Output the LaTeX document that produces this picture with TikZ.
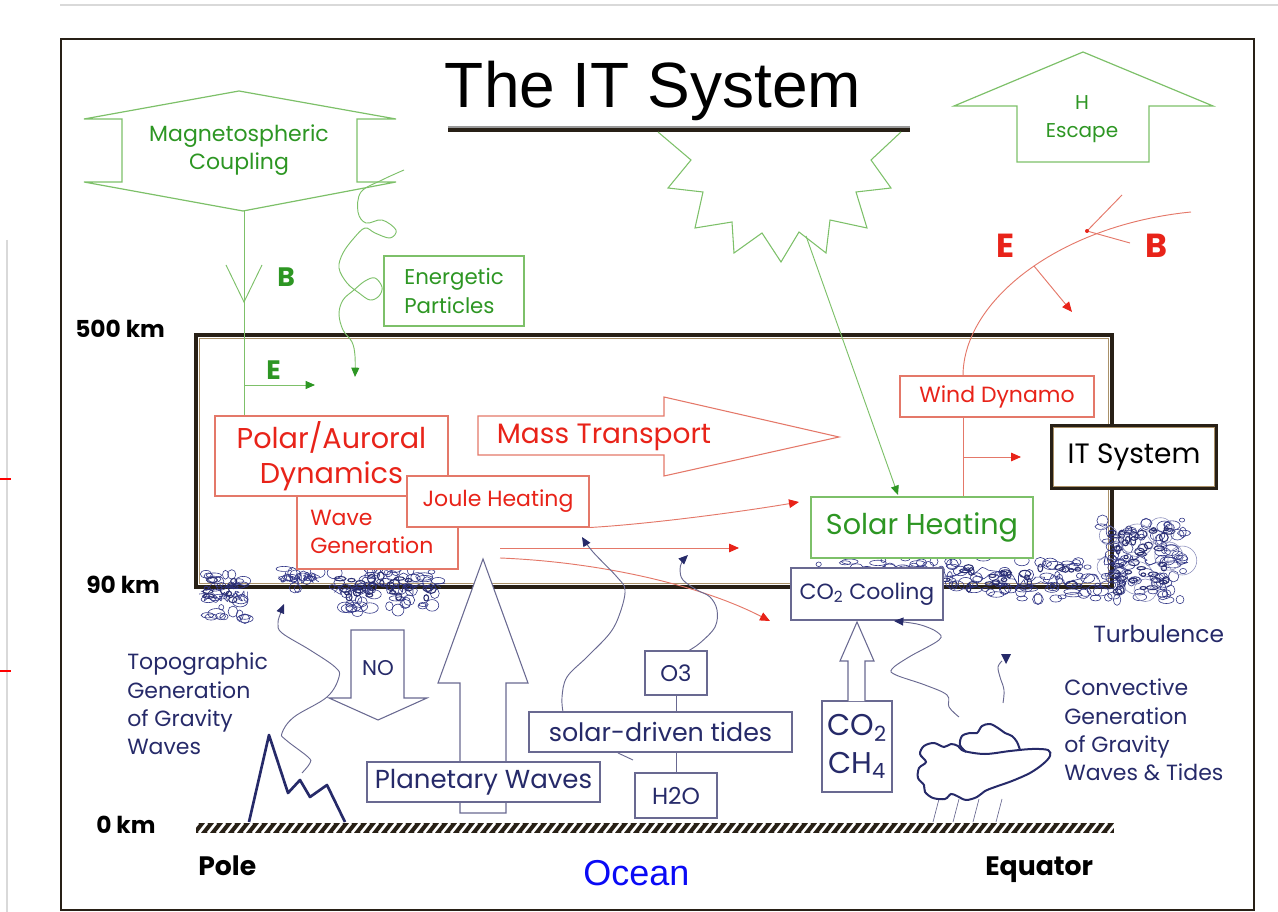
\documentclass[tikz,border=0pt]{standalone}
\usepackage{fontspec}
\setmainfont{Poppins}
\newfontfamily\arialf{Liberation Sans}
\usetikzlibrary{arrows.meta}

\definecolor{grtxt}{RGB}{45,150,35}
\definecolor{grln}{RGB}{125,192,105}
\definecolor{rdtxt}{RGB}{232,35,25}
\definecolor{rdln}{RGB}{228,120,105}
\definecolor{nvtxt}{RGB}{38,42,105}
\definecolor{nvln}{RGB}{105,105,145}
\definecolor{scrib}{RGB}{50,55,135}
\definecolor{frm}{RGB}{40,32,22}
\definecolor{tan}{RGB}{170,145,105}
\definecolor{oceanblue}{RGB}{10,10,245}

\begin{document}
\begin{tikzpicture}[x=0.75pt,y=-0.75pt,
  wh/.style 2 args={minimum width=#1*0.75pt, minimum height=#2*0.75pt},
  box/.style={draw, rectangle, inner sep=0pt, fill=white, line width=0.8pt},
  gbox/.style={box, draw=grln, text=grtxt},
  rbox/.style={box, draw=rdln, text=rdtxt},
  nbox/.style={box, draw=nvln, text=nvtxt},
  txt/.style={inner sep=0pt, align=center},
  fsz/.style 2 args={font=\fontsize{#1}{#2}\selectfont},
  gtip/.style={-{Triangle[length=7pt,width=6pt,color=grtxt]}},
  rtip/.style={-{Triangle[length=7.5pt,width=6.5pt,color=rdtxt]}},
  ntip/.style={-{Triangle[length=7pt,width=6pt,color=nvtxt]}},
  thin line/.style={line width=0.7pt},
  hollow/.style={draw=nvln, fill=white, line width=0.8pt}
]
\useasboundingbox (0,0) rectangle (1278,912);

% scanning marks along the edges
\draw[black!15, line width=0.8pt] (60,5) -- (1278,5);
\draw[black!15, line width=0.8pt] (7,240) -- (7,912);
\draw[red, line width=2.2pt] (0,479) -- (11,479);
\draw[red, line width=2.2pt] (0,671) -- (11,671);

% outer frame
\draw[frm, line width=1.5pt] (61,39) rectangle (1254,910);

% title
\node[font=\arialf\fontsize{48}{52}\selectfont, inner sep=0pt, anchor=base] (title) at (653,108) {The IT System};
\draw[frm, line width=3.2pt] (448,130) -- (910,130);
\draw[black!40, line width=0.8pt] (448,127) -- (910,127);

% sun
\draw[grln, line width=0.8pt] (658,132) -- (691,160) -- (668,188) -- (703,192) -- (695,228)
  -- (732,222) -- (734,253) -- (762,233) -- (781,262) -- (799,232) -- (826,253)
  -- (830,220) -- (867,228) -- (856,192) -- (891,188) -- (871,160) -- (901,132);
\coordinate (sunpt) at (806,236);

% magnetospheric coupling
\draw[grln, line width=0.9pt] (239,91) -- (396,119) -- (357,119) -- (357,182) -- (396,182)
  -- (243,211) -- (84,182) -- (122,182) -- (122,119) -- (84,119) -- cycle;
\node[txt, text=grtxt, fsz={16.5}{21}] (mc) at (239,150) {Magnetospheric\\Coupling};
\coordinate (magb) at (244,211);

% H escape
\draw[grln, line width=0.9pt] (1083,52) -- (1213,106) -- (1149,106) -- (1149,162)
  -- (1017,162) -- (1017,106) -- (954,106) -- cycle;
\node[txt, text=grtxt, fsz={15}{21}] (he) at (1082,119) {H\\Escape};

% energetic particles
\node[gbox, wh={140}{70}, align=left, fsz={16}{21.5}] (ep) at (454,291) {Energetic\\Particles};

% main IT region
\draw[frm, line width=3pt] (196,335) rectangle (1112,587);
\draw[tan, line width=0.9pt] (199.5,338.5) rectangle (1108.5,583.5);

% altitude labels
\node[font=\bfseries\fontsize{17.5}{20}\selectfont, inner sep=0pt, anchor=base west] (k500) at (75,338) {500 km};
\node[font=\bfseries\fontsize{17.5}{20}\selectfont, inner sep=0pt, anchor=base west] (k90) at (86,593) {90 km};
\node[font=\bfseries\fontsize{17.5}{20}\selectfont, inner sep=0pt, anchor=base west] (k0) at (96,833) {0 km};

% turbulence scribbles near 90 km
\pgfmathsetseed{2718}
\begin{scope}[scrib, line width=0.45pt]
\foreach \n/\xa/\xb/\ya/\yb in {30/203/248/574/620, 12/282/318/566/590, 55/332/442/566/612,
    50/815/1000/556/590, 45/990/1100/560/600, 80/1100/1185/520/600}{
  \foreach \i in {1,...,\n}{
    \pgfmathsetmacro\cx{\xa+(\xb-\xa)*rnd}
    \pgfmathsetmacro\cy{\ya+(\yb-\ya)*rnd}
    \pgfmathsetmacro\rx{2.5+6*rnd}
    \pgfmathsetmacro\ry{2+4*rnd}
    \draw (\cx,\cy) ellipse[x radius=\rx, y radius=\ry];
  }
  \draw plot[smooth, variable=\t, domain=0:1, samples=22] ({\xa+(\xb-\xa)*\t+4*rand},{(\ya+\yb)/2+6*rand});
  \draw plot[smooth, variable=\t, domain=0:1, samples=22] ({\xa+(\xb-\xa)*\t+4*rand},{(\ya+\yb)/2+6*rand});
}
% denser knots
\foreach \n/\xa/\xb/\ya/\yb in {10/205/235/580/600, 25/340/435/575/598, 30/900/1090/565/588, 45/1112/1170/528/592}{
  \foreach \i in {1,...,\n}{
    \pgfmathsetmacro\cx{\xa+(\xb-\xa)*rnd}
    \pgfmathsetmacro\cy{\ya+(\yb-\ya)*rnd}
    \pgfmathsetmacro\rx{2+4*rnd}
    \pgfmathsetmacro\ry{1.5+3*rnd}
    \draw[line width=0.8pt, scrib!85!black] (\cx,\cy) ellipse[x radius=\rx, y radius=\ry];
  }
}
\foreach \i in {1,...,9}{
  \pgfmathsetmacro\cx{1105+80*rnd}
  \pgfmathsetmacro\cy{530+65*rnd}
  \pgfmathsetmacro\rr{9+8*rnd}
  \draw[scrib!55] (\cx,\cy) circle[radius=\rr];
}
\end{scope}

% magnetic field line and electric field from the magnetosphere
\node[rbox, wh={233}{80}, fsz={21.5}{26.5}, align=center] (pad) at (331.5,456) {Polar/Auroral\\Dynamics};
\draw[grln, thin line] (magb) -- (magb |- pad.north);
\draw[grln, thin line] (226,265) -- (244,302) -- (262,265);
\node[font=\bfseries\fontsize{20}{22}\selectfont, text=grtxt, inner sep=0pt, anchor=base west] (bl) at (277,287) {B};
\coordinate (ebase) at (244,385);
\draw[grln, thin line, gtip] (ebase) -- ++(71,0);
\node[font=\bfseries\fontsize{20}{22}\selectfont, text=grtxt, inner sep=0pt, anchor=base west] (el) at (266,380) {E};

% energetic particle trajectory
\draw[grln, thin line, gtip] plot[smooth, tension=0.6] coordinates {(404,170) (382,180) (361,192) (358,212)
  (366,223) (382,220) (396,230) (390,238) (375,233) (365,228) (354,238) (343,253) (339,268)
  (347,283) (359,293) (370,300) (379,296) (382,287) (375,278) (365,281) (354,290) (343,300)
  (339,314) (343,330) (352,342) (355,356) (355,377)};

% wave generation and joule heating
\node[rbox, wh={161}{73}] (wg) at (377.5,532.5) {};
\node[txt, text=rdtxt, fsz={16.5}{21}, align=left, anchor=west] (wgt) at (310,532) {Wave\\Generation};
\node[rbox, wh={182}{51}, fsz={16.5}{20}] (jh) at (498,501.5) {Joule Heating};

% mass transport
\draw[rdln, line width=0.8pt] (478,416) -- (664,416) -- (664,397) -- (839,437) -- (664,476)
  -- (664,455) -- (478,455) -- cycle;
\node[txt, text=rdtxt, fsz={21}{24}] (mt) at (604,437) {Mass Transport};

% wind dynamo, IT system and solar heating
\node[rbox, wh={194}{41}, fsz={16.5}{20}] (wd) at (997,396.5) {Wind Dynamo};
\node[draw=frm, fill=white, line width=2.6pt, inner sep=0pt, wh={164}{62}, fsz={21}{24}] (its) at (1134,457) {IT System};
\draw[tan, line width=1pt] ([shift={(2.4pt,-2.4pt)}]its.north west) rectangle ([shift={(-2.4pt,2.4pt)}]its.south east);
\node[gbox, wh={222}{61}, fsz={21.5}{24}] (sh) at (922,527.5) {Solar Heating};
\coordinate (wdl) at (963,417);
\draw[rdln, thin line] (wdl) -- (wdl |- sh.north);
\coordinate (wdm) at (963,457);
\draw[rdln, thin line, rtip] (wdm) -- (1021,457);
\coordinate (shin) at (898,495);
\draw[grln, thin line, gtip] (sunpt) -- (shin);

% electric and magnetic fields above the dynamo
\coordinate (wdt) at (963,376);
\draw[rdln, thin line] (wdt) .. controls (963,300) and (1060,225) .. (1191,212);
\draw[rdln, thin line] (1122,195) -- (1087,231) -- (1130,243);
\fill[rdtxt] (1087,231) circle[radius=2];
\draw[rdln, thin line, rtip] (1034,266) -- (1072,312);
\node[font=\bfseries\fontsize{25}{28}\selectfont, text=rdtxt, inner sep=0pt, anchor=base west] (er) at (996,258) {E};
\node[font=\bfseries\fontsize{25}{28}\selectfont, text=rdtxt, inner sep=0pt, anchor=base west] (br) at (1145,258) {B};

% heating flows
\draw[rdln, thin line, rtip] (jh.south east) .. controls (650,524) and (740,512) .. (799,502);
\coordinate (hs1) at (500,548);
\draw[rdln, thin line, rtip] (hs1) -- (739,548);
\coordinate (hs2) at (500,558);
\draw[rdln, thin line, rtip] (hs2) .. controls (600,562) and (700,585) .. (770,621);

% CO2 cooling
\node[nbox, wh={152}{52}, fsz={16.5}{20}] (cc) at (867,594) {CO\textsubscript{2} Cooling};

% planetary waves arrow
\draw[hollow] (483,559) -- (528,683) -- (506,683) -- (506,813) -- (460,813) -- (460,683) -- (438,683) -- cycle;
\node[nbox, wh={233}{40}, fsz={19.5}{22}] (pw) at (483.5,782) {Planetary Waves};

% NO arrow
\draw[hollow] (351,630) -- (404,630) -- (404,698) -- (427,698) -- (378,720) -- (329,698) -- (351,698) -- cycle;
\node[txt, text=nvtxt, fsz={16}{20}] (no) at (378,668) {NO};

% tides, ozone and water vapour
\node[nbox, wh={263}{40}, fsz={19}{22}] (tides) at (660.5,732) {solar-driven tides};
\node[nbox, wh={62}{44}, fsz={17}{20}] (o3) at (676,673) {O3};
\node[nbox, wh={82}{45}, fsz={17.5}{20}] (h2o) at (676,795.5) {H2O};
\draw[nvln, thin line] (o3.south) -- (o3.south |- tides.north);
\draw[nvln, thin line] (h2o.north) -- (h2o.north |- tides.south);
\draw[nvln, thin line] (618,753) -- (633,760);
\draw[nvln, thin line, ntip] plot[smooth, tension=0.6] coordinates {(563,712) (562,697) (567,677)
  (587,657) (610,633) (620,613) (625,590) (617,577) (593,552) (582,537)};
\draw[nvln, thin line, ntip] plot[smooth, tension=0.6] coordinates {(688,651) (700,643) (715,627)
  (717,610) (710,597) (697,590) (683,580) (680,570) (682,562) (688,555)};

% CO2 / CH4
\node[nbox, wh={70}{91}, fsz={22.5}{28}, align=center] (cch) at (857,746.5) {CO\textsubscript{2}\\CH\textsubscript{4}};
\draw[hollow] (848,701) -- (848,661) -- (840,661) -- (857,622) -- (874,661) -- (865,661) -- (865,701);

% topography and gravity waves
\draw[nvtxt, line width=2pt, line join=round] (249,822) -- (269,735) -- (288,793) -- (300,780)
  -- (310,797) -- (327,785) -- (345,822);
\draw[nvln, thin line, ntip] plot[smooth, tension=0.6] coordinates {(302,773) (310,763) (308,757)
  (286,740) (282,733) (294,717) (327,697) (339,677) (335,667) (310,650) (282,633) (278,623)
  (281,612) (284,604)};
\node[txt, text=nvtxt, fsz={16.5}{21.2}, align=left, anchor=west] (topo) at (127,704) {Topographic\\Generation\\of Gravity\\Waves};

% convection: rain and cloud
\foreach \dx in {0,20,40,63}{
  \draw[nvln, line width=0.5pt] ({939+\dx},799) -- ({933+\dx},822);
}
\draw[nvtxt, line width=1.5pt, fill=white] plot[smooth cycle, tension=0.55] coordinates {(926,762) (920,754)
  (924,746) (934,743) (944,747) (951,744) (958,746) (964,751) (985,754) (1010,751) (1032,749)
  (1048,750) (1050,756) (1043,764) (1030,773) (1012,781) (995,787) (985,791) (977,797)
  (966,800) (957,796) (951,794) (945,799) (933,798) (925,792) (924,785) (918,778) (919,768)};
\draw[nvtxt, line width=1.5pt] plot[smooth, tension=0.55] coordinates {(966,752) (960,745) (962,736)
  (970,733) (977,733) (982,726) (990,724) (998,728) (1005,733) (1012,736) (1017,742) (1020,750)};
\draw[nvln, thin line, ntip] plot[smooth, tension=0.6] coordinates {(959,717) (949,707) (947,695)
  (925,685) (896,675) (892,669) (909,657) (939,640) (937,632) (921,625) (904,622) (894,621)};
\draw[nvln, thin line] plot[smooth, tension=0.6] coordinates {(1003,703) (1004,690) (1000,677) (998,667) (1002,661)};
\fill[nvtxt] (1001,654) -- (1011,654) -- (1006,664) -- cycle;
\node[txt, text=nvtxt, fsz={16.5}{21.2}, align=left, anchor=west] (conv) at (1064,730) {Convective\\Generation\\of Gravity\\Waves \& Tides};
\node[inner sep=0pt, text=nvtxt, fsz={17.5}{20}, anchor=base west] (turb) at (1093,642) {Turbulence};

% ground
\fill[frm] (196,823) rectangle (1114,833);
\begin{scope}
\clip (196,823) rectangle (1114,833);
\foreach \k in {0,...,104}{
  \draw[white, line width=2pt] ({190+9*\k},833) -- ({198+9*\k},823);
}
\end{scope}
\node[font=\bfseries\fontsize{20}{24}\selectfont, inner sep=0pt, anchor=base west] (pole) at (198,875) {Pole};
\node[font=\bfseries\fontsize{20}{24}\selectfont, inner sep=0pt, anchor=base west] (eq) at (985,875) {Equator};
\node[font=\arialf\fontsize{27}{30}\selectfont, text=oceanblue, inner sep=0pt, anchor=base west] (ocean) at (583,885) {Ocean};
\end{tikzpicture}
\end{document}
